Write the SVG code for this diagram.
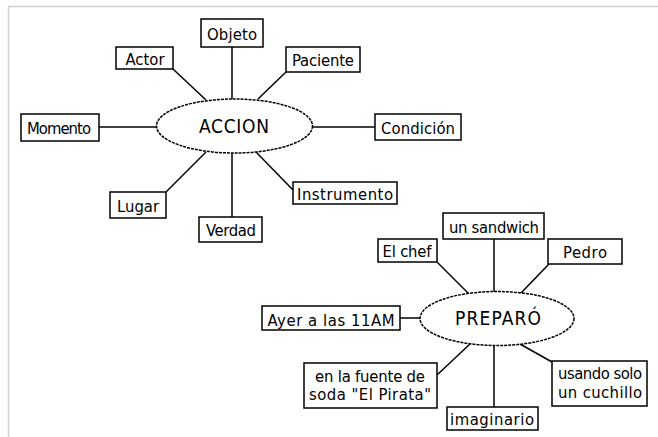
<svg xmlns="http://www.w3.org/2000/svg" width="658" height="437" viewBox="0 0 658 437">
<style>
.bx{fill:#fff;stroke:#000;stroke-width:1.5}
.el{fill:#fff;stroke:#000;stroke-width:1.5;stroke-dasharray:3 1}
.ln{stroke:#000;stroke-width:1.5;fill:none}
.t{font-family:"DejaVu Sans Condensed","Liberation Sans",sans-serif;font-size:16.5px;fill:#000;text-anchor:middle}
.big{font-size:19px}
</style>
<rect width="658" height="437" fill="#fff"/>
<path d="M8.5 437V6.5H658" fill="none" stroke="#d0d0d0" stroke-width="1.5"/>
<g id="connectors">
<line class="ln" x1="232" y1="47" x2="232" y2="99"/>
<line class="ln" x1="173" y1="69" x2="206" y2="100"/>
<line class="ln" x1="286" y1="72" x2="258" y2="99"/>
<line class="ln" x1="99" y1="127" x2="157" y2="127"/>
<line class="ln" x1="313" y1="127" x2="375" y2="127"/>
<line class="ln" x1="166" y1="192" x2="206" y2="152"/>
<line class="ln" x1="232" y1="153" x2="232" y2="217"/>
<line class="ln" x1="256" y1="152" x2="293" y2="190"/>
<line class="ln" x1="437" y1="262" x2="468" y2="293"/>
<line class="ln" x1="494" y1="239" x2="494" y2="292"/>
<line class="ln" x1="549" y1="264" x2="521" y2="293"/>
<line class="ln" x1="400" y1="318" x2="420" y2="318"/>
<line class="ln" x1="437" y1="375" x2="470" y2="344"/>
<line class="ln" x1="494" y1="346" x2="494" y2="407"/>
<line class="ln" x1="520" y1="344" x2="552" y2="362"/>
</g>
<g id="accion"><ellipse class="el" cx="234.5" cy="126" rx="78" ry="27"/><text class="t big" x="234" y="133" textLength="70" lengthAdjust="spacing">ACCION</text></g>
<g id="objeto"><rect class="bx" x="201" y="19" width="62" height="28"/><text class="t" x="232" y="39.5" textLength="50" lengthAdjust="spacing">Objeto</text></g>
<g id="actor"><rect class="bx" x="116" y="47" width="57" height="22"/><text class="t" x="145" y="64.5" textLength="39" lengthAdjust="spacing">Actor</text></g>
<g id="paciente"><rect class="bx" x="286" y="47" width="74" height="25"/><text class="t" x="323" y="66" textLength="62" lengthAdjust="spacing">Paciente</text></g>
<g id="momento"><rect class="bx" x="21" y="114" width="78" height="27"/><text class="t" x="59" y="134" textLength="64" lengthAdjust="spacing">Momento</text></g>
<g id="condicion"><rect class="bx" x="375" y="114" width="86" height="26"/><text class="t" x="418" y="133.5" textLength="74" lengthAdjust="spacing">Condición</text></g>
<g id="instrumento"><rect class="bx" x="293" y="182" width="104" height="22"/><text class="t" x="345" y="199.5" textLength="96" lengthAdjust="spacing">Instrumento</text></g>
<g id="lugar"><rect class="bx" x="110" y="192" width="56" height="26"/><text class="t" x="138" y="211.5" textLength="42" lengthAdjust="spacing">Lugar</text></g>
<g id="verdad"><rect class="bx" x="199" y="217" width="63" height="25"/><text class="t" x="231" y="236" textLength="50" lengthAdjust="spacing">Verdad</text></g>
<g id="preparo"><ellipse class="el" cx="497" cy="318.5" rx="77" ry="27"/><text class="t big" x="498" y="324.5" textLength="86" lengthAdjust="spacing">PREPARÓ</text></g>
<g id="sandwich"><rect class="bx" x="443" y="213" width="101" height="26"/><text class="t" x="494" y="232.5" textLength="90" lengthAdjust="spacing">un sandwich</text></g>
<g id="chef"><rect class="bx" x="378" y="239" width="59" height="23"/><text class="t" x="407" y="257" textLength="49" lengthAdjust="spacing">El chef</text></g>
<g id="pedro"><rect class="bx" x="548" y="239" width="74" height="25"/><text class="t" x="585" y="258" textLength="44" lengthAdjust="spacing">Pedro</text></g>
<g id="ayer"><rect class="bx" x="262" y="306" width="138" height="24"/><text class="t" x="331" y="325.5" textLength="127" lengthAdjust="spacing">Ayer a las 11AM</text></g>
<g id="fuente"><rect class="bx" x="304" y="363" width="133" height="45"/><text class="t" x="370" y="382" textLength="110" lengthAdjust="spacing">en la fuente de</text><text class="t" x="370" y="400" textLength="122" lengthAdjust="spacing">soda "El Pirata"</text></g>
<g id="usando"><rect class="bx" x="552" y="361" width="95" height="45"/><text class="t" x="600" y="379" textLength="84" lengthAdjust="spacing">usando solo</text><text class="t" x="600" y="398" textLength="84" lengthAdjust="spacing">un cuchillo</text></g>
<g id="imaginario"><rect class="bx" x="447" y="407" width="91" height="23"/><text class="t" x="492" y="425" textLength="84" lengthAdjust="spacing">imaginario</text></g>
</svg>
